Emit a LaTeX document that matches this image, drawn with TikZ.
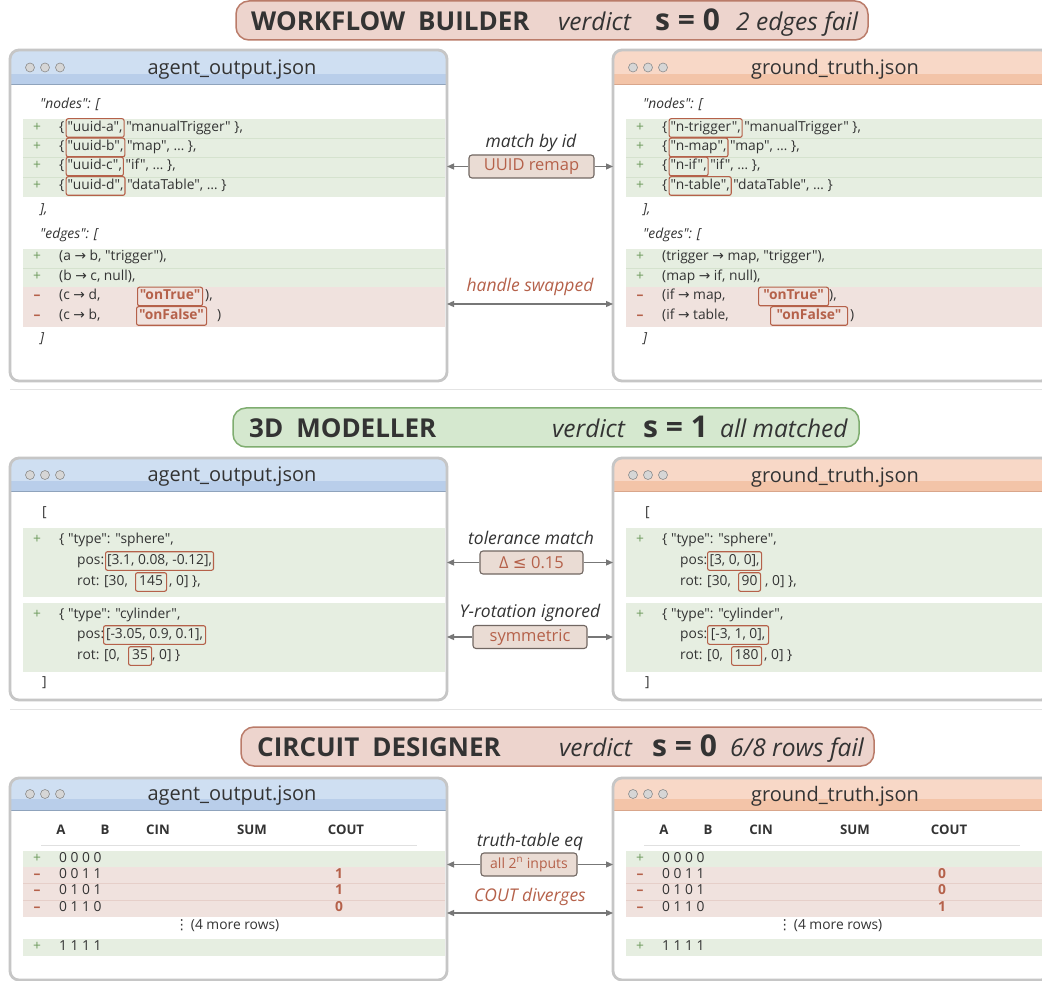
\documentclass[tikz,border=0pt]{standalone}
\usepackage{fontspec}
\setmainfont{Open Sans}[Ligatures=TeXOff]
\newfontfamily\symf{DejaVu Sans}
\usetikzlibrary{arrows.meta,positioning}

\definecolor{ink}{HTML}{333333}
\definecolor{hlred}{HTML}{B5614A}
\definecolor{okgreen}{HTML}{6E9B5E}
\definecolor{growfill}{HTML}{E6EEE1}
\definecolor{gsepc}{HTML}{D5E2CE}
\definecolor{rrowfill}{HTML}{F0E2DE}
\definecolor{rsepc}{HTML}{E6CFC9}
\definecolor{pillred}{HTML}{EDD4CD}
\definecolor{pillredline}{HTML}{BA7B69}
\definecolor{pillgreen}{HTML}{D5E8CF}
\definecolor{pillgreenline}{HTML}{7FAD70}
\definecolor{bluetop}{HTML}{CFDFF2}
\definecolor{bluebot}{HTML}{B9CEEA}
\definecolor{blueline}{HTML}{8FA3BC}
\definecolor{peachtop}{HTML}{F8D8C7}
\definecolor{peachbot}{HTML}{F3C4A8}
\definecolor{peachline}{HTML}{D9A68B}
\definecolor{framegray}{HTML}{C6C6C6}
\definecolor{dotfill}{HTML}{D6D6D6}
\definecolor{dotline}{HTML}{8C8C8C}
\definecolor{tagfill}{HTML}{EADCD4}
\definecolor{tagline}{HTML}{716762}
\definecolor{linkgray}{HTML}{777777}
\definecolor{rulegray}{HTML}{E4E4E4}

\begin{document}
\begin{tikzpicture}[x=1pt, y=-1pt, >={Triangle[length=7pt,width=6pt]},
    code/.style={font=\fontsize{13.8}{16}\selectfont, text=ink, inner sep=0pt, text height=10pt, text depth=3pt, anchor=west},
    keyline/.style={code, font=\fontsize{13.8}{16}\selectfont\itshape},
    hl/.style={code, draw=hlred, rounded corners=2pt, line width=1.1pt, inner xsep=1.5pt, inner ysep=2.8pt},
    hlbold/.style={hl, text=hlred, font=\fontsize{13.8}{16}\selectfont\bfseries, minimum width=#1},
    plus/.style={code, text=okgreen, anchor=center},
    minus/.style={code, text=hlred, font=\fontsize{13.8}{16}\selectfont\bfseries, anchor=center},
    hdr/.style={code, font=\fontsize{13.2}{15}\selectfont\bfseries, anchor=center},
    cout/.style={code, text=hlred, font=\fontsize{13.8}{16}\selectfont\bfseries, anchor=center},
    frame/.style={draw=framegray, line width=2.8pt, rounded corners=9pt, inner sep=0pt, outer sep=0pt},
    wtitle/.style={font=\fontsize{20}{23}\selectfont, text=ink, inner sep=0pt},
    dot/.style={circle, fill=dotfill, draw=dotline, line width=0.6pt, minimum size=9pt, inner sep=0pt},
    pill/.style={rounded corners=13pt, line width=1.5pt, minimum height=39pt, inner sep=0pt},
    ptitle/.style={font=\fontsize{26}{30}\selectfont\bfseries, text=ink, anchor=base west, inner sep=0pt},
    pverd/.style={font=\fontsize{24.5}{28}\selectfont\itshape, text=ink, anchor=base west, inner sep=0pt},
    pscore/.style={font=\fontsize{30}{34}\selectfont\bfseries, text=ink, anchor=base west, inner sep=0pt},
    midlbl/.style={font=\fontsize{17.5}{20}\selectfont\itshape, text=ink, inner sep=0pt},
    midred/.style={midlbl, text=hlred},
    tag/.style={draw=tagline, fill=tagfill, rounded corners=3pt, line width=1.1pt, text=hlred, font=\fontsize{16.5}{18}\selectfont, inner sep=0pt, minimum height=23pt},
    link/.style={draw=linkgray, line width=1.2pt}]
        \useasboundingbox (0,0) rectangle (1042,981);
        \clip (0,0) rectangle (1042,981);
        \fill[white] (0,0) rectangle (1042,981);

        % Разделители
        \draw[rulegray, line width=1pt] (10,390) -- (1042,390);
        \draw[rulegray, line width=1pt] (10,709) -- (1042,709);

        % Окна
        \foreach \s/\yt/\yb/\yh in {1/50/381/85,2/458/700/492,3/778/980/810}{
            \foreach \sd/\xo/\bt/\bb/\bl/\ttl in {a/0/bluetop/bluebot/blueline/agent\_output.json,g/603/peachtop/peachbot/peachline/ground\_truth.json}{
                \begin{scope}
                    \clip[rounded corners=9pt] (10+\xo,\yt) rectangle (447+\xo,\yb);
                    \fill[white] (10+\xo,\yt) rectangle (447+\xo,\yb);
                    \fill[\bt] (10+\xo,\yt) rectangle (447+\xo,\yh-11);
                    \fill[\bb] (10+\xo,\yh-11) rectangle (447+\xo,\yh);
                \end{scope}
                \draw[\bl, line width=1pt] (10+\xo,\yh) -- (447+\xo,\yh);
                \node[frame, minimum width=437pt, minimum height={(\yb-\yt)*1pt}] (\sd win\s) at ({228.5+\xo},{(\yt+\yb)/2}) {};
                \foreach \d [count=\k] in {30,45,60}
                    \node[dot] (\sd dot\s-\k) at ({\d+\xo},{(\yt+\yh)/2}) {};
                \node[wtitle] (\sd ttl\s) at ({232+\xo},{(\yt+\yh)/2+2}) {\ttl};
            }
        }

        % Строки: WORKFLOW
        \foreach \xo in {0,603}{
            \fill[growfill] (23+\xo,119) rectangle (445+\xo,197);
            \fill[growfill] (23+\xo,249) rectangle (445+\xo,287);
            \fill[rrowfill] (23+\xo,287) rectangle (445+\xo,327);
            \foreach \y in {138.5,157.5,177,268} \draw[gsepc, line width=0.8pt] (23+\xo,\y) -- (445+\xo,\y);
            \foreach \y [count=\i] in {128,147.5,166.5,186,257.5,277} \node[plus] (pw\xo-\i) at (37+\xo,\y) {+};
            \foreach \y [count=\i] in {296.5,316} \node[minus] (mw\xo-\i) at (37+\xo,\y) {–};
            \node[keyline] (kn\xo) at (40+\xo,105) {"nodes": [};
            \node[keyline] (kc\xo) at (40+\xo,210) {],};
            \node[keyline] (ke\xo) at (40+\xo,235) {"edges": [};
            \node[keyline] (kz\xo) at (40+\xo,339) {]};
        }
        \foreach \id/\rest/\y [count=\i] in {uuid-a/{"manualTrigger" \},}/128,uuid-b/{"map", … \},}/147.5,uuid-c/{"if", … \},}/166.5,uuid-d/{"dataTable", … \}}/186}{
            \node[code] (ab\i) at (59,\y) {\{};
            \node[hl, right=1pt of ab\i] (aid\i) {"\id",};
            \node[code, right=1.5pt of aid\i] (arest\i) {\rest};
        }
        \foreach \id/\rest/\y [count=\i] in {n-trigger/{"manualTrigger" \},}/128,n-map/{"map", … \},}/147.5,n-if/{"if", … \},}/166.5,n-table/{"dataTable", … \}}/186}{
            \node[code] (gb\i) at (662,\y) {\{};
            \node[hl, right=1pt of gb\i] (gid\i) {"\id",};
            \node[code, right=1.5pt of gid\i] (grest\i) {\rest};
        }
        \node[code] (ae1) at (59,257.5) {(a {\symf →} b, "trigger"),};
        \node[code] (ae2) at (59,277) {(b {\symf →} c, null),};
        \node[code] (ae3) at (59,296.5) {(c {\symf →} d,};
        \node[hlbold=65pt] (atrue) at (137,296.5) {"onTrue"};
        \node[code] (ae3e) at (205,296.5) {),};
        \node[code] (ae4) at (59,316) {(c {\symf →} b,};
        \node[hlbold=70pt] (afalse) at (136,316) {"onFalse"};
        \node[code] (ae4e) at (217,316) {)};
        \node[code] (ge1) at (662,257.5) {(trigger {\symf →} map, "trigger"),};
        \node[code] (ge2) at (662,277) {(map {\symf →} if, null),};
        \node[code] (ge3) at (662,296.5) {(if {\symf →} map,};
        \node[hlbold=70pt] (gtrue) at (758,296.5) {"onTrue"};
        \node[code] (ge3e) at (829,296.5) {),};
        \node[code] (ge4) at (662,316) {(if {\symf →} table,};
        \node[hlbold=77pt] (gfalse) at (770,316) {"onFalse"};
        \node[code] (ge4e) at (850,316) {)};

        % Строки: 3D
        \foreach \xo in {0,603}{
            \fill[growfill] (23+\xo,528) rectangle (445+\xo,597);
            \fill[growfill] (23+\xo,603) rectangle (445+\xo,672);
            \foreach \y [count=\i] in {540,614.5} \node[plus] (pm\xo-\i) at (37+\xo,\y) {+};
            \node[code] (bo\xo) at (42+\xo,513) {[};
            \node[code] (bc\xo) at (42+\xo,683) {]};
            \node[code] (sph\xo) at (59+\xo,540) {\{ "type": "sphere",};
            \node[code] (cyl\xo) at (59+\xo,614.5) {\{ "type": "cylinder",};
            \node[code] (pa\xo) at (77+\xo,561) {pos:};
            \node[code] (ra\xo) at (77+\xo,582) {rot: [30,};
            \node[code] (pb\xo) at (77+\xo,635) {pos:};
            \node[code] (rb\xo) at (77+\xo,656) {rot: [0,};
        }
        \node[hl, minimum width=102pt] (apv1) at (105,561) {[3.1, 0.08, -0.12],};
        \node[hl, minimum width=31pt] (arv1) at (135,582) {145};
        \node[code] (arr1) at (169,582) {, 0] \},};
        \node[hl, minimum width=102pt] (apv2) at (103,635) {[-3.05, 0.9, 0.1],};
        \node[hl, minimum width=23pt] (arv2) at (128,656) {35};
        \node[code] (arr2) at (152,656) {, 0] \}};
        \node[hl, minimum width=54pt] (gpv1) at (707,561) {[3, 0, 0],};
        \node[hl, minimum width=22pt] (grv1) at (738,582) {90};
        \node[code] (grr1) at (765,582) {, 0] \},};
        \node[hl, minimum width=61pt] (gpv2) at (707,635) {[-3, 1, 0],};
        \node[hl, minimum width=30pt] (grv2) at (731,656) {180};
        \node[code] (grr2) at (764,656) {, 0] \}};

        % Строки: CIRCUIT
        \foreach \xo in {0,603}{
            \fill[growfill] (23+\xo,851) rectangle (445+\xo,867);
            \fill[rrowfill] (23+\xo,867) rectangle (445+\xo,917);
            \fill[growfill] (23+\xo,939) rectangle (445+\xo,956);
            \foreach \y in {883.5,900} \draw[rsepc, line width=0.8pt] (23+\xo,\y) -- (445+\xo,\y);
            \draw[black!12, line width=1pt] (41+\xo,845) -- (417+\xo,845);
            \foreach \h/\hx [count=\i] in {A/61,B/105,CIN/158,SUM/252,COUT/346}
                \node[hdr] (h\xo-\i) at (\hx+\xo,831) {\h};
            \foreach \y [count=\i] in {859,947} \node[plus] (pc\xo-\i) at (37+\xo,\y) {+};
            \foreach \y [count=\i] in {874.5,891,907.5} \node[minus] (mc\xo-\i) at (37+\xo,\y) {–};
            \foreach \bits/\y [count=\i] in {0 0 0 0/859,0 0 1 1/874.5,0 1 0 1/891,0 1 1 0/907.5,1 1 1 1/947}
                \node[code] (t\xo-\i) at (59+\xo,\y) {\bits};
            \node[code, anchor=center] (more\xo) at (227+\xo,925.5) {{\symf ⋮}\,(4 more rows)};
        }
        \foreach \v/\y [count=\i] in {1/874.5,1/891,0/907.5} \node[cout] (ac\i) at (339,\y) {\v};
        \foreach \v/\y [count=\i] in {0/874.5,0/891,1/907.5} \node[cout] (gc\i) at (942,\y) {\v};

        % Заголовки
        \node[pill, fill=pillred, draw=pillredline, minimum width=632pt] (wfpill) at (552,20.5) {};
        \node[ptitle] (wfname) at (251,30.5) {WORKFLOW\hspace{0.5em}BUILDER};
        \node[pverd] (wfverd) at (558,30.5) {verdict};
        \node[pscore] (wfs) at (655,30.5) {s = 0};
        \node[pverd] (wfnote) at (736,30.5) {2 edges fail};

        \node[pill, fill=pillgreen, draw=pillgreenline, minimum width=626pt] (mdpill) at (546,427.5) {};
        \node[ptitle] (mdname) at (249,438) {3D\hspace{0.5em}MODELLER};
        \node[pverd] (mdverd) at (552,438) {verdict};
        \node[pscore] (mds) at (643,438) {s = 1};
        \node[pverd] (mdnote) at (720,438) {all matched};

        \node[pill, fill=pillred, draw=pillredline, minimum width=633pt] (cdpill) at (557.5,746.5) {};
        \node[ptitle] (cdname) at (257,756) {CIRCUIT\hspace{0.5em}DESIGNER};
        \node[pverd] (cdverd) at (559,756) {verdict};
        \node[pscore] (cds) at (652,756) {s = 0};
        \node[pverd] (cdnote) at (730,756) {6/8 rows fail};

        % Связи
        \node[midlbl] (mbid) at (531,143) {match by id};
        \node[tag, minimum width=125pt] (remap) at (531.5,166.5) {UUID remap};
        \draw[link,->] (remap.west) -- (remap.west -| awin1.east);
        \draw[link,->] (remap.east) -- (remap.east -| gwin1.west);
        \node[midred] (hswap) at (530,287) {handle swapped};
        \draw[link,<->] (awin1.east |- 0,304) -- (gwin1.west |- 0,304);

        \node[midlbl] (tolm) at (531,538) {tolerance match};
        \node[tag, minimum width=103pt] (delta) at (531.5,562.5) {Δ {\symf ≤} 0.15};
        \draw[link,->] (delta.west) -- (delta.west -| awin2.east);
        \draw[link,->] (delta.east) -- (delta.east -| gwin2.west);
        \node[midlbl] (yrot) at (530,613) {Y-rotation ignored};
        \node[tag, minimum width=114pt] (symm) at (530,637) {symmetric};
        \draw[link,->] (symm.west) -- (symm.west -| awin2.east);
        \draw[link,->] (symm.east) -- (symm.east -| gwin2.west);

        \node[midlbl] (tteq) at (530,842) {truth-table eq};
        \node[tag, minimum width=96pt, font=\fontsize{14}{16}\selectfont] (all2n) at (529,864.5) {all 2\textsuperscript{n} inputs};
        \draw[link,->] (all2n.west) -- (all2n.west -| awin3.east);
        \draw[link,->] (all2n.east) -- (all2n.east -| gwin3.west);
        \node[midred] (cdiv) at (530,897) {COUT diverges};
        \draw[link,<->] (awin3.east |- 0,913) -- (gwin3.west |- 0,913);
\end{tikzpicture}
\end{document}
